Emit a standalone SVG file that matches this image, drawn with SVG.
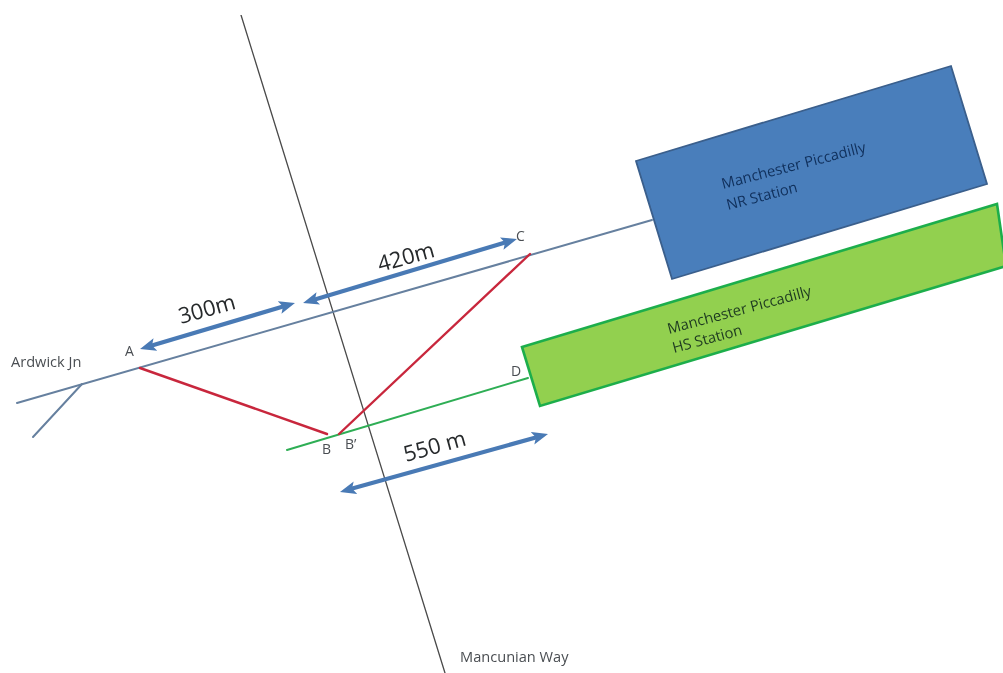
<svg xmlns="http://www.w3.org/2000/svg" width="1003" height="673" viewBox="0 0 1003 673">
<style>
text{font-family:"Open Sans","Noto Sans","Liberation Sans",sans-serif;fill:#4a4e52}
.s{font-size:14px}
.w{font-size:14.6px}
.d{font-size:22px;fill:#26292c}
.n{font-size:14.8px}
.nr{fill:#10305c}
.hs{fill:#1e3a20}
.line{fill:none;stroke-linecap:round}
.rail{stroke:#66809f;stroke-width:2}
.red{stroke:#c8283c;stroke-width:2.4}
.green{stroke:#2fae55;stroke-width:2}
.road{stroke:#4a4a4a;stroke-width:1.3}
.dim{stroke:#4a7ab5;stroke-width:4.2;stroke-linecap:butt;marker-start:url(#ah);marker-end:url(#ah)}
</style>
<defs>
<marker id="ah" viewBox="0 0 16 14" refX="8" refY="7" markerUnits="userSpaceOnUse" markerWidth="16" markerHeight="14" orient="auto-start-reverse"><path d="M0 0.5L16 7L0 13.5L3.5 7Z" fill="#4a7ab5"/></marker>
<filter id="soft" x="0" y="0" width="100%" height="100%"><feGaussianBlur stdDeviation="0.55"/></filter>
</defs>
<rect width="1003" height="673" fill="#fff"/>
<g filter="url(#soft)">
<g id="connectors">
<path class="line road" d="M241 15L445 673"/>
<path class="line rail" d="M17 403L652 220"/>
<path class="line rail" d="M82 384L33 437"/>
<path class="line green" d="M287 450L528 378"/>
<path class="line red" d="M140 368L327 434"/>
<path class="line red" d="M339 434L530 254"/>
<path class="line dim" d="M147.7 346.7L287.3 305.3"/>
<path class="line dim" d="M310.7 300.7L509.3 241.3"/>
<path class="line dim" d="M347.7 489.8L540.3 436.2"/>
</g>
<g id="nr-station">
<path d="M636 161L951 66L987 184L672 279Z" fill="#4a7ebb" stroke="#3a5f8c" stroke-width="1.8"/>
<text class="n nr" transform="translate(723 189) rotate(-14.5)">Manchester Piccadilly</text>
<text class="n nr" transform="translate(728 210) rotate(-14.5)">NR Station</text>
</g>
<g id="hs-station">
<path d="M522 347L997 204L1006 266L540 406Z" fill="#92d050" stroke="#1fae4c" stroke-width="2.6"/>
<text class="n hs" transform="translate(669 334) rotate(-15)">Manchester Piccadilly</text>
<text class="n hs" transform="translate(674 353) rotate(-15)">HS Station</text>
</g>
<g id="labels">
<text class="w" x="11" y="367">Ardwick Jn</text>
<text class="s" x="125" y="356">A</text>
<text class="s" x="322" y="454">B</text>
<text class="s" x="345" y="449">B’</text>
<text class="s" x="516" y="241">C</text>
<text class="s" x="511" y="376">D</text>
<text class="w" x="460" y="662">Mancunian Way</text>
<text class="d" transform="translate(181 324) rotate(-15.5)">300m</text>
<text class="d" transform="translate(380 272) rotate(-15.5)">420m</text>
<text class="d" transform="translate(406 462) rotate(-15.5)">550 m</text>
</g>
</g>
</svg>
